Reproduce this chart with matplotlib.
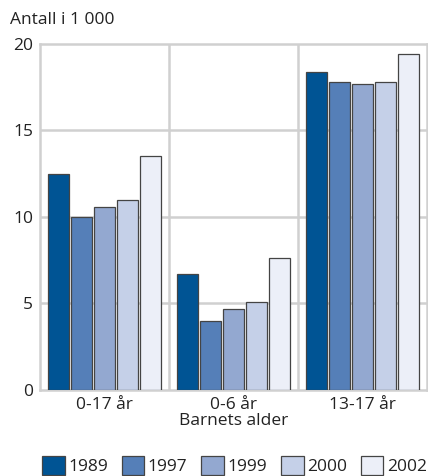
import numpy as np
import matplotlib.pyplot as plt

plt.rcParams['font.family'] = ['Open Sans', 'DejaVu Sans']

categories = ['0-17 år', '0-6 år', '13-17 år']
years = ['1989', '1997', '1999', '2000', '2002']
values = {
    '1989': [12.5, 6.7, 18.4],
    '1997': [10.0, 4.0, 17.8],
    '1999': [10.6, 4.7, 17.7],
    '2000': [11.0, 5.1, 17.8],
    '2002': [13.5, 7.6, 19.4],
}
colors = ['#005494', '#557fb8', '#93a8d0', '#c5d0e8', '#eceff8']

fig = plt.figure(figsize=(4.28, 4.76), dpi=100)
ax = fig.add_axes([0.0935, 0.1807, 0.904, 0.727])

x = np.arange(len(categories))
step = 0.178
width = 0.165
for i, (yr, c) in enumerate(zip(years, colors)):
    ax.bar(x + (i - 2) * step, values[yr], width, color=c, edgecolor='#444444',
           linewidth=0.9, label=yr, zorder=3)

grid_col = '#d0d0d0'
for yv in [5, 10, 15]:
    ax.axhline(yv, color=grid_col, lw=1.8, zorder=1)
for xv in [0.5, 1.5]:
    ax.axvline(xv, color=grid_col, lw=1.8, zorder=1)
for s in ax.spines.values():
    s.set_color(grid_col)
    s.set_linewidth(1.8)

ax.set_xlim(-0.5, 2.5)
ax.set_ylim(0, 20)
ax.set_yticks([0, 5, 10, 15, 20])
ax.set_xticks(x)
ax.set_xticklabels(categories)
ax.tick_params(length=0, labelsize=12.5, colors='#222222', pad=5)
ax.set_xlabel('Barnets alder', fontsize=12.5, color='#222222', labelpad=0)
fig.text(0.023, 0.958, 'Antall i 1 000', fontsize=12.5, color='#222222', va='center')

leg = fig.legend(loc='lower center', ncol=5, frameon=False, fontsize=12.5,
                 bbox_to_anchor=(0.548, -0.02), handlelength=1.3, handleheight=1.3,
                 handletextpad=0.2, columnspacing=0.8, borderaxespad=0.2)
for t in leg.get_texts():
    t.set_color('#222222')

fig.savefig('out.png', dpi=100)
